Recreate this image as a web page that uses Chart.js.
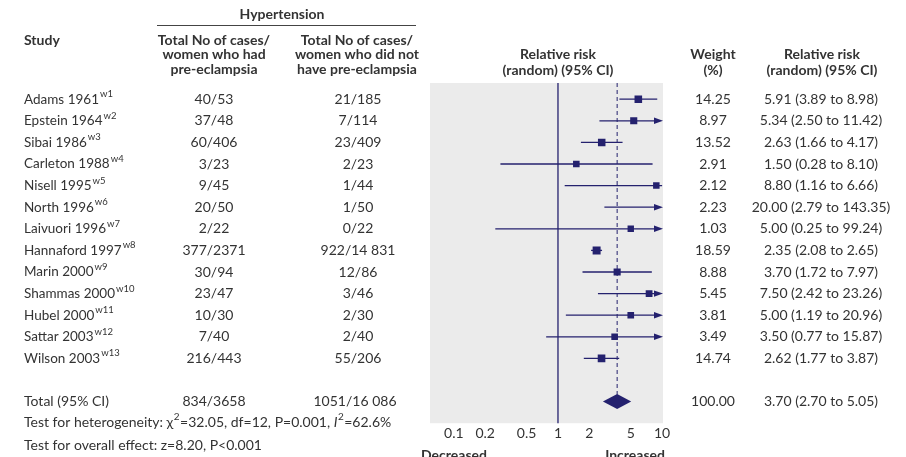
<!DOCTYPE html>
<html>
<head>
<meta charset="utf-8">
<script src="https://cdn.jsdelivr.net/npm/chart.js@4.4.0/dist/chart.umd.min.js"></script>
<style>
  html, body { margin: 0; padding: 0; background: #fff; }
  #wrap { width: 906px; height: 457px; }
</style>
</head>
<body>
<div id="wrap"><canvas id="forest"></canvas></div>
<script>
"use strict";

// Study rows (top to bottom)
const studies = ['Adams 1961', 'Epstein 1964', 'Sibai 1986', 'Carleton 1988', 'Nisell 1995', 'North 1996',
  'Laivuori 1996', 'Hannaford 1997', 'Marin 2000', 'Shammas 2000', 'Hubel 2000', 'Sattar 2003', 'Wilson 2003'];
const studyRefs = ['w1', 'w2', 'w3', 'w4', 'w5', 'w6', 'w7', 'w8', 'w9', 'w10', 'w11', 'w12', 'w13'];
const casesPre = ['40/53', '37/48', '60/406', '3/23', '9/45', '20/50', '2/22', '377/2371', '30/94', '23/47', '10/30', '7/40', '216/443'];
const casesNoPre = ['21/185', '7/114', '23/409', '2/23', '1/44', '1/50', '0/22', '922/14 831', '12/86', '3/46', '2/30', '2/40', '55/206'];
const weights = [14.25, 8.97, 13.52, 2.91, 2.12, 2.23, 1.03, 18.59, 8.88, 5.45, 3.81, 3.49, 14.74];
const rrLabels = ['5.91 (3.89 to 8.98)', '5.34 (2.50 to 11.42)', '2.63 (1.66 to 4.17)', '1.50 (0.28 to 8.10)',
  '8.80 (1.16 to 6.66)', '20.00 (2.79 to 143.35)', '5.00 (0.25 to 99.24)', '2.35 (2.08 to 2.65)',
  '3.70 (1.72 to 7.97)', '7.50 (2.42 to 23.26)', '5.00 (1.19 to 20.96)', '3.50 (0.77 to 15.87)', '2.62 (1.77 to 3.87)'];

// plotted values (Nisell's drawn line runs to the right edge)
const rr = [5.91, 5.34, 2.63, 1.50, 8.80, 20.00, 5.00, 2.35, 3.70, 7.50, 5.00, 3.50, 2.62];
const ciLow = [3.89, 2.50, 1.66, 0.28, 1.16, 2.79, 0.25, 2.08, 1.72, 2.42, 1.19, 0.77, 1.77];
const ciHigh = [8.98, 11.42, 4.17, 8.10, 10.0, 143.35, 99.24, 2.65, 7.97, 23.26, 20.96, 15.87, 3.87];

// pooled estimate
const totalRow = ['Total (95% CI)', '834/3658', '1051/16 086', '100.00', '3.70 (2.70 to 5.05)'];
const pooled = [3.70, 2.70, 5.05];

const xTicks = [0.1, 0.2, 0.5, 1, 2, 5, 10];
const xTickLabels = ['0.1', '0.2', '0.5', '1', '2', '5', '10'];

const NAVY = '#24216e';
const TEXT = '#333333';
const FONT = "Lato, 'Noto Sans', sans-serif";
const TOTAL_IDX = 14;

function txt(ctx, s, x, y, align, bold, size, italic) {
  ctx.font = (italic ? 'italic ' : '') + (bold ? 'bold ' : '') + (size || 14) + 'px ' + FONT;
  ctx.textAlign = align || 'left';
  ctx.textBaseline = 'middle';
  ctx.fillText(s, x, y);
  return ctx.measureText(s).width;
}

// draw a run of segments left to right: [text, 'n'|'sup'|'it']
function runText(ctx, parts, x, y) {
  let cx = x;
  parts.forEach(([s, kind]) => {
    if (kind === 'sup') cx += txt(ctx, s, cx + 0.5, y - 5, 'left', false, 10) + 1;
    else cx += txt(ctx, s, cx, y, 'left', false, 14, kind === 'it');
  });
}

const forestPlugin = {
  id: 'forest',
  beforeDraw(chart) {
    const { ctx, chartArea: a } = chart;
    ctx.save();
    ctx.fillStyle = '#ebebeb';
    ctx.fillRect(a.left, a.top, a.right - a.left, a.bottom - a.top);
    ctx.restore();
  },
  beforeDatasetsDraw(chart) {
    const { ctx, chartArea: a, scales: { x, y } } = chart;
    ctx.save();
    ctx.strokeStyle = NAVY;
    ctx.fillStyle = NAVY;

    // line of no effect
    ctx.lineWidth = 1.3;
    const x1 = x.getPixelForValue(1);
    ctx.beginPath();
    ctx.moveTo(x1, a.top);
    ctx.lineTo(x1, a.bottom);
    ctx.stroke();

    // pooled estimate dashed line
    const yT = y.getPixelForValue(TOTAL_IDX);
    const xp = x.getPixelForValue(pooled[0]);
    ctx.setLineDash([4, 3]);
    ctx.lineWidth = 1;
    ctx.beginPath();
    ctx.moveTo(xp, a.top);
    ctx.lineTo(xp, yT - 7);
    ctx.stroke();
    ctx.setLineDash([]);

    // confidence intervals
    ctx.lineWidth = 1.3;
    studies.forEach((s, i) => {
      const py = y.getPixelForValue(i);
      const l = x.getPixelForValue(Math.max(ciLow[i], x.min));
      const over = ciHigh[i] > x.max;
      const r = over ? a.right - 6 : x.getPixelForValue(ciHigh[i]);
      ctx.beginPath();
      ctx.moveTo(l, py);
      ctx.lineTo(r, py);
      ctx.stroke();
      if (over) {
        ctx.beginPath();
        ctx.moveTo(a.right, py);
        ctx.lineTo(a.right - 9, py - 3.2);
        ctx.lineTo(a.right - 9, py + 3.2);
        ctx.closePath();
        ctx.fill();
      }
    });

    // pooled diamond
    ctx.beginPath();
    ctx.moveTo(x.getPixelForValue(pooled[1]), yT);
    ctx.lineTo(xp, yT - 7.5);
    ctx.lineTo(x.getPixelForValue(pooled[2]), yT);
    ctx.lineTo(xp, yT + 7.5);
    ctx.closePath();
    ctx.fill();
    ctx.restore();
  },
  afterDraw(chart) {
    const { ctx, chartArea: a, scales: { y } } = chart;
    ctx.save();
    ctx.fillStyle = TEXT;

    // headers
    txt(ctx, 'Hypertension', 282, 14, 'center', true, 14);
    ctx.strokeStyle = '#444';
    ctx.lineWidth = 1;
    ctx.beginPath();
    ctx.moveTo(157, 25.5);
    ctx.lineTo(416, 25.5);
    ctx.stroke();
    txt(ctx, 'Study', 24, 40, 'left', true, 14);
    ['Total No of cases/', 'women who had', 'pre-eclampsia'].forEach((s, k) => txt(ctx, s, 214, 40 + k * 14.5, 'center', true, 14));
    ['Total No of cases/', 'women who did not', 'have pre-eclampsia'].forEach((s, k) => txt(ctx, s, 357, 40 + k * 14.5, 'center', true, 14));
    txt(ctx, 'Relative risk', 558, 54.5, 'center', true, 14);
    txt(ctx, '(random) (95% CI)', 558, 70.5, 'center', true, 14);
    txt(ctx, 'Weight', 713, 54.5, 'center', true, 14);
    txt(ctx, '(%)', 713, 70.5, 'center', true, 14);
    txt(ctx, 'Relative risk', 822, 54.5, 'center', true, 14);
    txt(ctx, '(random) (95% CI)', 822, 70.5, 'center', true, 14);

    // rows
    studies.forEach((s, i) => {
      const py = y.getPixelForValue(i);
      const w = txt(ctx, s, 24, py, 'left', false, 13.5);
      txt(ctx, studyRefs[i], 24 + w + 1, py - 5, 'left', false, 9.5);
      txt(ctx, casesPre[i], 214, py, 'center', false, 14);
      txt(ctx, casesNoPre[i], 358, py, 'center', false, 14);
      txt(ctx, weights[i].toFixed(2), 713, py, 'center', false, 14);
      txt(ctx, rrLabels[i], 821, py, 'center', false, 14);
    });

    const yT = y.getPixelForValue(TOTAL_IDX);
    txt(ctx, totalRow[0], 24, yT, 'left', false, 14);
    txt(ctx, totalRow[1], 214, yT, 'center', false, 14);
    txt(ctx, totalRow[2], 355, yT, 'center', false, 14);
    txt(ctx, totalRow[3], 713, yT, 'center', false, 14);
    txt(ctx, totalRow[4], 821, yT, 'center', false, 14);

    runText(ctx, [['Test for heterogeneity: \u03c7', 'n'], ['2', 'sup'], ['=32.05, df=12, P=0.001, ', 'n'],
      ['I', 'it'], ['2', 'sup'], ['=62.6%', 'n']], 24, 422);
    runText(ctx, [['Test for overall effect: z=8.20, P<0.001', 'n']], 24, 445);

    txt(ctx, 'Decreased', a.left - 9, 455, 'left', true, 14);
    txt(ctx, 'Increased', a.right + 2, 455, 'right', true, 14);
    ctx.restore();
  }
};

new Chart(document.getElementById('forest'), {
  type: 'scatter',
  data: {
    datasets: [{
      label: 'Relative risk',
      data: rr.map((v, i) => ({ x: v, y: i })),
      pointStyle: 'rect',
      pointRadius: (c) => (6.3 + weights[c.dataIndex] * 0.09) / Math.SQRT2,
      backgroundColor: NAVY,
      borderWidth: 0,
    }],
  },
  options: {
    responsive: true,
    maintainAspectRatio: false,
    animation: false,
    layout: { padding: { left: 430, right: 243, top: 83, bottom: 13 } },
    plugins: { legend: { display: false }, tooltip: { enabled: false } },
    scales: {
      x: {
        type: 'logarithmic',
        min: 0.059,
        max: 10.2,
        afterBuildTicks: (scale) => { scale.ticks = xTicks.map(v => ({ value: v })); },
        grid: { display: false, drawTicks: false },
        border: { display: false },
        ticks: {
          autoSkip: false,
          maxRotation: 0,
          padding: 2,
          color: TEXT,
          font: { family: FONT, size: 14 },
          callback: (v, i) => xTickLabels[i],
        },
      },
      y: {
        type: 'linear',
        min: -0.75,
        max: 15,
        reverse: true,
        display: false,
      },
    },
  },
  plugins: [forestPlugin],
});
</script>
</body>
</html>
